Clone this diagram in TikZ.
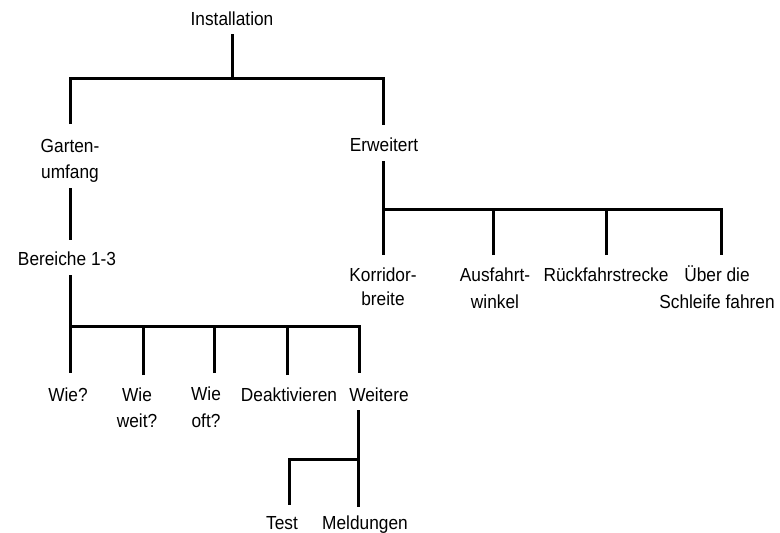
\documentclass[tikz,border=0pt]{standalone}
\usepackage{fontspec}
\setmainfont[FakeStretch=0.915]{Liberation Sans}
\usetikzlibrary{calc}
\tikzset{
  lbl/.style={anchor=base, inner sep=0pt, font=\fontsize{18.9pt}{26pt}\selectfont},
  tree/.style={line width=3pt, line cap=butt, line join=miter, draw=black}
}
\newcommand\twolines[3][0pt]{\begin{tabular}[t]{@{}c@{}}#2\\[#1]#3\end{tabular}}
\begin{document}
\begin{tikzpicture}[x=1pt,y=-1pt]
\useasboundingbox (0,0) rectangle (780,533);
% labels
\node[lbl] (inst)  at (232,25)  {Installation};
\node[lbl] (garten) at (70,152) {\twolines{Garten-}{umfang}};
\node[lbl] (erw)   at (384,151) {Erweitert};
\node[lbl] (ber)   at (67,265)  {Bereiche 1-3};
\node[lbl] (korr)  at (383,281) {\twolines[-2pt]{Korridor-}{breite}};
\node[lbl] (ausf)  at (495,281) {\twolines[1pt]{Ausfahrt-}{winkel}};
\node[lbl] (rueck) at (606,281) {Rückfahrstrecke};
\node[lbl] (ueber) at (717,281) {\twolines[1pt]{Über die}{Schleife fahren}};
\node[lbl] (wie1)  at (68,401)  {Wie?};
\node[lbl] (wie2)  at (137,401) {\twolines{Wie}{weit?}};
\node[lbl] (wie3)  at (206,400) {\twolines[1pt]{Wie}{oft?}};
\node[lbl] (deakt) at (289,401) {Deaktivieren};
\node[lbl] (weit)  at (379,401) {Weitere};
\node[lbl] (test)  at (282,529) {Test};
\node[lbl] (meld)  at (365,529) {Meldungen};
% junctions
\coordinate (jA) at (232,78);
\coordinate (jB) at (383,209);
\coordinate (jC) at (70,326);
\coordinate (jD) at (358,459);
% connector ends at labels
\coordinate (ausfT)  at ($(ausf.base)+(-2,-26)$);
\coordinate (rueckT) at ($(rueck.base)+(0,-26)$);
\coordinate (wie2T)  at ($(wie2.base)+(6,-26)$);
\coordinate (wie3T)  at ($(wie3.base)+(8,-27)$);
\coordinate (deaktT) at ($(deakt.base)+(-2,-26)$);
% connectors
\draw[tree] ($(inst.base)+(0,9)$) -- (jA);
\draw[tree] ($(garten.base)+(0,-28)$) |- (jA) -| ($(erw.base)+(-1,-26)$);
\draw[tree] ($(garten.base)+(0,36)$) -- ($(garten.base |- ber.base)+(0,-25)$);
% Erweitert branch
\draw[tree] ($(erw.base)+(-1,10)$) -- ($(korr.base)+(0,-26)$);
\draw[tree] (jB) -| ($(ueber.base)+(4,-26)$);
\draw[tree] (ausfT) -- (ausfT |- jB);
\draw[tree] (rueckT) -- (rueckT |- jB);
% Bereiche branch
\draw[tree] ($(ber.base)+(3,10)$) -- ($(wie1.base)+(2,-28)$);
\draw[tree] (jC) -| ($(weit.base)+(-20,-28)$);
\draw[tree] (wie2T) -- (wie2T |- jC);
\draw[tree] (wie3T) -- (wie3T |- jC);
\draw[tree] (deaktT) -- (deaktT |- jC);
% Weitere branch
\draw[tree] ($(weit.base)+(-21,9)$) -- ($(meld.base)+(-7,-22)$);
\draw[tree] (jD) -| ($(test.base)+(7,-24)$);
\end{tikzpicture}
\end{document}
